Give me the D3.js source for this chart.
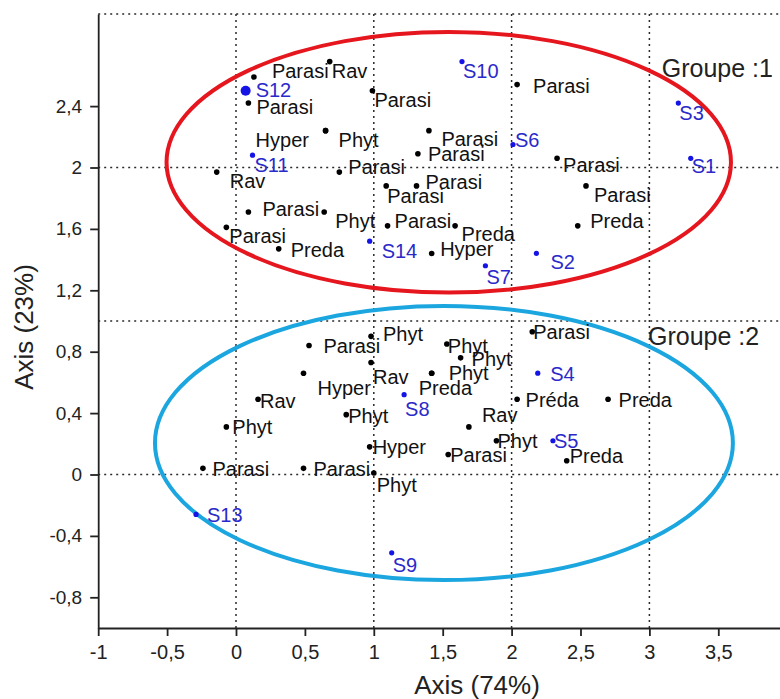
<!DOCTYPE html>
<html><head><meta charset="utf-8">
<script src="https://cdn.jsdelivr.net/npm/d3@7"></script>
<style>body{margin:0;background:#fff}svg{display:block}</style>
</head><body>
<svg id="chart" width="780" height="699"></svg>
<script>
// ---------- DATA ----------
const pointLabels = [
  "Parasi","Rav","S12","Parasi","Parasi","S10","Parasi","S3","Phyt","Hyper",
  "Parasi","Parasi","S6","S11","Rav","Parasi","Parasi","S1","Parasi","Parasi",
  "Parasi","Parasi","Phyt","Parasi","Preda","Parasi","Preda","S14","Hyper","S7",
  "S2","Preda",
  "Parasi","Phyt","Phyt","Phyt","Hyper","Rav","Phyt","Preda","S8","Rav",
  "Phyt","Phyt","Rav","Hyper","Phyt","Parasi","S5","Preda","Parasi","S4",
  "Préda","Preda","Parasi","Parasi","Phyt","S13","S9"
];
const pointX = [
  0.13,0.68,0.07,0.09,0.99,1.64,2.04,3.21,0.65,0.65,
  1.40,1.32,2.01,0.12,-0.14,0.75,2.33,3.30,1.09,1.31,
  2.54,0.09,0.64,1.10,1.59,-0.07,0.31,0.97,1.42,1.81,
  2.18,2.48,
  0.53,0.98,1.53,1.63,0.49,0.98,1.42,1.42,1.22,0.16,
  0.80,-0.07,1.69,0.97,1.89,1.54,2.30,2.40,2.15,2.19,
  2.04,2.70,-0.24,0.49,1.00,-0.29,1.13
];
const pointY = [
  2.59,2.69,2.50,2.42,2.50,2.69,2.54,2.42,2.24,2.24,
  2.24,2.09,2.15,2.08,1.97,1.97,2.06,2.06,1.88,1.88,
  1.88,1.71,1.71,1.62,1.62,1.61,1.47,1.52,1.44,1.36,
  1.44,1.62,
  0.84,0.90,0.85,0.76,0.66,0.73,0.66,0.66,0.52,0.49,
  0.39,0.31,0.31,0.18,0.22,0.13,0.22,0.09,0.93,0.66,
  0.49,0.49,0.04,0.04,0.01,-0.26,-0.51
];
const xTickValues = [-1,-0.5,0,0.5,1,1.5,2,2.5,3,3.5];
const yTickValues = [-0.8,-0.4,0,0.4,0.8,1.2,1.6,2,2.4];
const gridXValues = [0,1,2,3];
const gridYValues = [0,1,2,3];
const groupNames = ["Groupe :1","Groupe :2"];
const groupCx = [1.544, 1.509];
const groupCy = [2.034, 0.205];
const groupRx = [2.048, 2.097];
const groupRy = [0.849, 0.893];
const groupLabelX = [3.09, 2.99];
const groupLabelY = [2.59, 0.844];
const xTitle = "Axis (74%)";
const yTitle = "Axis (23%)";

// ---------- LAYOUT (label nudges in px: [dx, dy]) ----------
const labelNudge = [
  [18,-6],[2,9],[10,-1],[8,4],[2,9],[1,9],[16,1],[1,9.5],[13,9],[-70,9],
  [12.5,8],[10,0],[2,-4],[2,10],[13,9],[9,-5],[6,7],[1,8],[1,10],[9,-4],
  [8,9],[14,-3.5],[11,9],[7,-5],[6.5,8.5],[3,9],[12,1],[12,9.5],[8.5,-4],[1,11],
  [14,8.5],[12.5,-5],
  [14.5,0],[12,-2],[1,1.5],[11,1],[14,14.5],[2,15],[17,0],[-13,14.5],[1,14.5],[2,2],
  [2,1.5],[6,0],[13,-12],[3,0],[1,0],[2,0],[1,0],[3,-4.5],[1,0],[12.5,1],
  [8.5,0.5],[10.5,0.5],[9.5,1],[10,1],[3,12],[11,1],[1,12.5]
];
const groupColors = ["#e5161d", "#1ca6df"];
const FONT = "Arial, 'Liberation Sans', sans-serif";

const svg = d3.select("#chart");
svg.append("rect").attr("width",780).attr("height",699).attr("fill","#fff");

const x = d3.scaleLinear().domain([-1, 3.95]).range([98.2, 780.3]);
const y = d3.scaleLinear().domain([-1, 3]).range([628, 14]);

const locale = d3.formatLocale({decimal: ",", thousands: " ", grouping: [3], currency: ["", ""], minus: "-"});
const fmt = locale.format("~g");

// grid (dotted)
const grid = svg.append("g").attr("stroke","#2a2a2a").attr("stroke-width",1.5).attr("stroke-dasharray","2,4");
grid.selectAll(".gx").data(gridXValues).join("line")
  .attr("x1", d => x(d)).attr("x2", d => x(d))
  .attr("y1", y(-1)).attr("y2", y(3));
grid.selectAll(".gy").data(gridYValues).join("line")
  .attr("x1", x(-1)).attr("x2", 780)
  .attr("y1", d => y(d)).attr("y2", d => y(d));

// axes
const xAxis = svg.append("g").attr("transform", `translate(0,${y(-1)})`)
  .call(d3.axisBottom(x).tickValues(xTickValues).tickFormat(fmt).tickSize(8).tickSizeOuter(0).tickPadding(9));
const yAxis = svg.append("g").attr("transform", `translate(${x(-1)},0)`)
  .call(d3.axisLeft(y).tickValues(yTickValues).tickFormat(fmt).tickSize(8).tickSizeOuter(0).tickPadding(8));
[xAxis, yAxis].forEach(a => {
  a.select(".domain").attr("stroke","#222").attr("stroke-width",1.8);
  a.selectAll(".tick line").attr("stroke","#222").attr("stroke-width",1.8);
  a.selectAll(".tick text").attr("font-family",FONT).attr("font-size",20).attr("fill","#222");
});
yAxis.selectAll(".tick text").attr("font-size",19);

// ellipses
svg.append("g").selectAll("ellipse").data(groupNames).join("ellipse")
  .attr("cx", (d,i) => x(groupCx[i]))
  .attr("cy", (d,i) => y(groupCy[i]))
  .attr("rx", (d,i) => x(groupCx[i] + groupRx[i]) - x(groupCx[i]))
  .attr("ry", (d,i) => y(groupCy[i] - groupRy[i]) - y(groupCy[i]))
  .attr("fill","none")
  .attr("stroke", (d,i) => groupColors[i])
  .attr("stroke-width", 4);

// points
const pts = pointLabels.map((l,i) => ({label:l, x:pointX[i], y:pointY[i], site:/^S\d+$/.test(l), i}));
svg.append("g").selectAll("circle").data(pts).join("circle")
  .attr("cx", d => x(d.x)).attr("cy", d => y(d.y))
  .attr("r", d => d.label === "S12" ? 5 : (d.site ? 2.6 : 2.8))
  .attr("fill", d => d.site ? "#1414e6" : "#000");

svg.append("g").selectAll("text").data(pts).join("text")
  .attr("x", d => x(d.x) + labelNudge[d.i][0])
  .attr("y", d => y(d.y) + labelNudge[d.i][1])
  .attr("dominant-baseline","central")
  .attr("font-family", FONT).attr("font-size", 20)
  .attr("fill", d => d.site ? "#2a2acb" : "#111")
  .text(d => d.label);

// group labels
svg.append("g").selectAll("text").data(groupNames).join("text")
  .attr("x", (d,i) => x(groupLabelX[i]))
  .attr("y", (d,i) => y(groupLabelY[i]))
  .attr("font-family", FONT).attr("font-size", 25).attr("fill","#222")
  .text(d => d);

// axis titles
svg.append("text").attr("x", 477).attr("y", 694).attr("text-anchor","middle")
  .attr("font-family", FONT).attr("font-size", 26).attr("fill","#222").text(xTitle);
svg.append("text").attr("transform","translate(33,327) rotate(-90)").attr("text-anchor","middle")
  .attr("font-family", FONT).attr("font-size", 26).attr("fill","#222").text(yTitle);
</script>
</body></html>
